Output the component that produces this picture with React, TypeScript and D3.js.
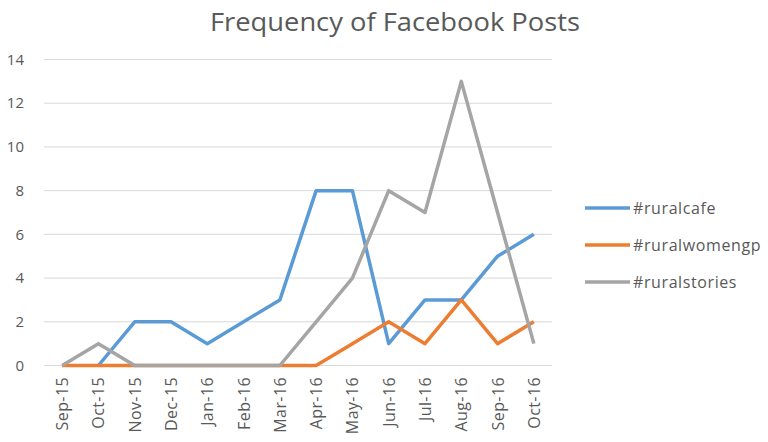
import * as d3 from 'd3';

const months = ['Sep-15', 'Oct-15', 'Nov-15', 'Dec-15', 'Jan-16', 'Feb-16', 'Mar-16', 'Apr-16', 'May-16', 'Jun-16', 'Jul-16', 'Aug-16', 'Sep-16', 'Oct-16'];
const ruralcafe: (number | null)[] = [null, 0, 2, 2, 1, 2, 3, 8, 8, 1, 3, 3, 5, 6];
const ruralwomengp: (number | null)[] = [0, 0, 0, 0, 0, 0, 0, 0, 1, 2, 1, 3, 1, 2];
const ruralstories: (number | null)[] = [0, 1, 0, 0, 0, 0, 0, 2, 4, 8, 7, 13, 7, 1];
const yTicks = [0, 2, 4, 6, 8, 10, 12, 14];

const series = [
    { name: '#ruralcafe', values: ruralcafe, color: '#5B9BD5' },
    { name: '#ruralwomengp', values: ruralwomengp, color: '#ED7D31' },
    { name: '#ruralstories', values: ruralstories, color: '#A5A5A5' },
];

const W = 768;
const H = 442;
const font = "'Open Sans', 'DejaVu Sans', sans-serif";

export default function App() {
    const x = d3.scaleBand<string>().domain(months).range([44, 552]);
    const y = d3.scaleLinear().domain([0, 14]).range([365.5, 59.5]);
    const cx = (m: string) => (x(m) ?? 0) + x.bandwidth() / 2;

    const line = d3.line<number | null>()
        .defined(d => d !== null)
        .x((_, i) => cx(months[i]))
        .y(d => y(d as number));

    return (
        <svg width={W} height={H} style={{ position: 'absolute', left: 0, top: 0, background: '#fff' }} fontFamily={font}>
            <text x={395} y={31} textAnchor="middle" fontSize={26} fill="#595959" textLength={370} lengthAdjust="spacingAndGlyphs">Frequency of Facebook Posts</text>

            {yTicks.map(t => (
                <g key={t}>
                    <line x1={44} x2={552} y1={y(t)} y2={y(t)} stroke="#D9D9D9" strokeWidth={1} />
                    <text x={24} y={y(t)} dy="0.35em" textAnchor="end" fontSize={15} fill="#595959">{t}</text>
                </g>
            ))}

            {months.map(m => (
                <text key={m} transform={`translate(${cx(m) + 6},${377}) rotate(-90)`} textAnchor="end" fontSize={16} letterSpacing={0.4} fill="#595959">{m}</text>
            ))}

            {series.map(s => (
                <path key={s.name} d={line(s.values) ?? ''} fill="none" stroke={s.color} strokeWidth={3.5} strokeLinejoin="round" />
            ))}

            {series.map((s, i) => {
                const ly = [208, 245, 282][i];
                return (
                    <g key={s.name}>
                        <line x1={585} x2={630} y1={ly} y2={ly} stroke={s.color} strokeWidth={3.5} />
                        <text x={633} y={ly} dy="0.35em" fontSize={16} letterSpacing={0.6} fill="#595959">{s.name}</text>
                    </g>
                );
            })}
        </svg>
    );
}
